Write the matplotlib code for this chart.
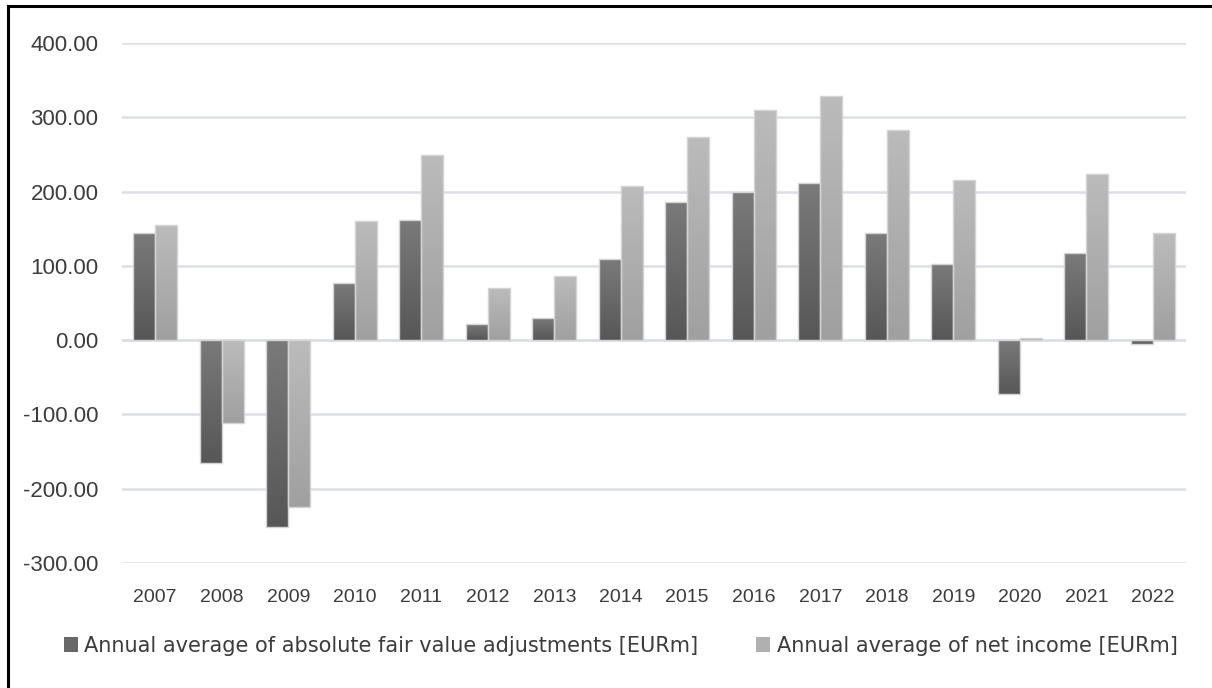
import numpy as np
import matplotlib
import matplotlib.pyplot as plt
from matplotlib.colors import LinearSegmentedColormap
from matplotlib.lines import Line2D
from matplotlib.patches import Patch

# .. data
years = [str(y) for y in range(2007, 2023)]
fair_value = [144, -166, -252, 77, 162, 22, 30, 109, 186, 200, 211, 144, 102, -72, 117, -5]
net_income = [155, -112, -224, 161, 249, 70, 87, 208, 273, 310, 329, 283, 215, 3, 224, 144]
labels = ['Annual average of absolute fair value adjustments [EURm]',
          'Annual average of net income [EURm]']
yticks = [-300, -200, -100, 0, 100, 200, 300, 400]

plt.rcParams['font.family'] = ['Liberation Sans', 'DejaVu Sans']
txt = '#3c3c3c'

W, H = 1212, 688
fig = plt.figure(figsize=(W / 100, H / 100), dpi=100)
ax = fig.add_axes([122 / W, 1 - 563 / H, 1064 / W, 520 / H])

x = np.arange(len(years))
bw = 0.33
dark = LinearSegmentedColormap.from_list('dk', ['#575757', '#7a7a7a'])
light = LinearSegmentedColormap.from_list('lt', ['#a0a0a0', '#bbbbbb'])
grad = np.linspace(0, 1, 64).reshape(-1, 1)

def gradient_bars(xs, vals, cmap):
    bars = ax.bar(xs, vals, bw, color='none', edgecolor='#d4d4d4', lw=1, zorder=3)
    for b in bars:
        x0, y0 = b.get_x(), b.get_y()
        w, h = b.get_width(), b.get_height()
        lo, hi = min(y0, y0 + h), max(y0, y0 + h)
        im = ax.imshow(grad, extent=[x0, x0 + w, lo, hi], origin='lower',
                       aspect='auto', cmap=cmap, zorder=2.5)
        im.set_clip_path(b)
    return bars

gradient_bars(x - bw / 2, fair_value, dark)
gradient_bars(x + bw / 2, net_income, light)

ax.set_xlim(-0.5, len(years) - 0.5)
ax.set_ylim(-300, 400)
ax.set_yticks(yticks)
ax.set_yticklabels([f'{v:.2f}' for v in yticks])
ax.set_xticks(x)
ax.set_xticklabels(years)
ax.tick_params(axis='y', length=0, pad=17, labelsize=16, labelcolor=txt)
ax.tick_params(axis='x', length=0, pad=19, labelsize=14, labelcolor=txt)
ax.grid(axis='y', color='#dcdfe6', lw=1.8, zorder=0)
ax.axhline(0, color='#dcdfe6', lw=1.8, zorder=1)
for s in ax.spines.values():
    s.set_visible(False)

handles = [Patch(facecolor='#686868'), Patch(facecolor='#b0b0b0')]
fig.legend(handles, labels, loc='center', bbox_to_anchor=(0.512, 1 - 646 / H), ncol=2,
           frameon=False, prop={'family': 'DejaVu Sans', 'size': 15}, labelcolor=txt,
           handlelength=0.67, handleheight=0.75, handletextpad=0.3, columnspacing=2.8)

# .. partial frame around the chart (top and left edges only visible)
fig.add_artist(Line2D([8 / W, 8 / W], [0, 1 - 6 / H], color='black', lw=2.2))
fig.add_artist(Line2D([8 / W, 1], [1 - 6 / H, 1 - 6 / H], color='black', lw=2.2))

fig.savefig('out.png', dpi=100)
